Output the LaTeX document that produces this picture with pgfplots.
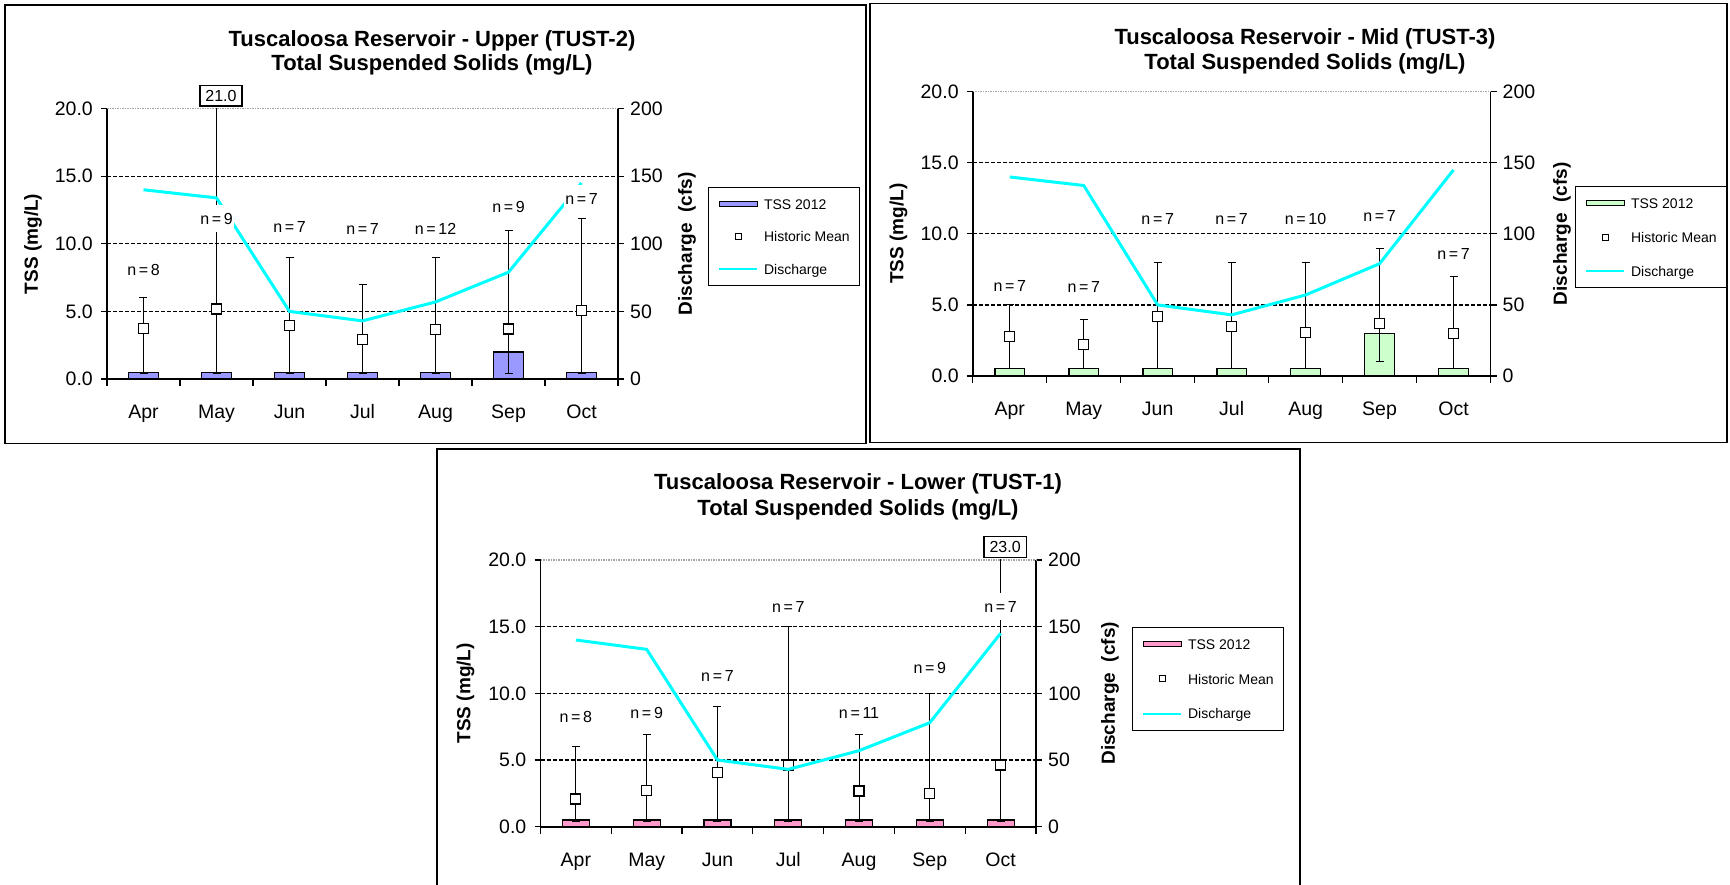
\documentclass[border=0pt]{standalone}
\usepackage{fontspec}
\setmainfont{Liberation Sans}
\usepackage{pgfplots}
\usepackage{pgfplotstable}
\pgfplotsset{compat=1.18}

\definecolor{tssA}{HTML}{9999FF}
\definecolor{tssB}{HTML}{CCFFCC}
\definecolor{tssC}{HTML}{FF99CC}
\definecolor{dis}{HTML}{00FFFF}

\newcommand\ftitle{\fontsize{22pt}{26pt}\selectfont\bfseries}
\newcommand\ftick{\fontsize{19.5pt}{23pt}\selectfont}
\newcommand\flab{\fontsize{19pt}{23pt}\selectfont\bfseries}
\newcommand\fleg{\fontsize{14pt}{17pt}\selectfont}
\newcommand\fn{\fontsize{16pt}{19pt}\selectfont}
\newcommand\fvalbox{\fontsize{16pt}{19pt}\selectfont}

% Upper TUST-2
\pgfplotstableread{
x mean lo hi tss dis n ny
0 3.74 0.4 6.0 0.5 140 8 8.07
1 5.18 0.4 21.0 0.5 134 9 11.87
2 3.95 0.4 9.0 0.5 50 7 11.27
3 2.94 0.4 7.0 0.5 43 7 11.13
4 3.65 0.4 9.0 0.5 57 12 11.13
5 3.70 0.4 11.0 2.0 79 9 12.75
6 5.05 0.4 11.9 0.5 145 7 13.32
}\dataA
% Mid TUST-3
\pgfplotstableread{
x mean lo hi tss dis n ny
0 2.77 0.5 5.0 0.5 140 7 6.35
1 2.23 0.5 4.0 0.5 134 7 6.28
2 4.17 0.5 8.0 0.5 50 7 11.02
3 3.47 0.5 8.0 0.5 43 7 11.02
4 3.07 0.5 8.0 0.5 57 10 11.02
5 3.70 1.0 9.0 3.0 79 7 11.25
6 3.00 0.5 7.0 0.5 145 7 8.58
}\dataB
% Lower TUST-1
\pgfplotstableread{
x mean lo hi tss dis n ny
0 2.08 0.4 6.0 0.5 140 8 8.25
1 2.73 0.4 6.9 0.5 133 9 8.55
2 4.05 0.4 9.0 0.5 50 7 11.3
3 4.63 0.4 15.0 0.5 43 7 16.45
4 2.68 0.4 6.9 0.5 57 11 8.55
5 2.50 0.4 10.0 0.5 78 9 11.88
6 4.63 0.4 23.0 0.5 145 7 16.5
}\dataC

\pgfplotsset{
  tssaxis/.style={
    scale only axis, clip mode=individual,
    xmin=-0.5, xmax=6.5, ymin=0, ymax=20,
    axis y line*=left, axis x line*=bottom,
    axis line style={line width=1.8pt, black},
    xtick={0,...,6}, xticklabels={Apr,May,Jun,Jul,Aug,Sep,Oct},
    minor xtick={-0.5,0.5,...,6.5},
    major x tick style={draw=none},
    minor x tick style={line width=1.2pt, black},
    tick align=outside, major tick length=6pt, minor tick length=7pt,
    ytick={0,5,...,20},
    major y tick style={line width=1.2pt, black},
    yticklabel style={/pgf/number format/fixed, /pgf/number format/fixed zerofill, /pgf/number format/precision=1, inner sep=0pt, anchor=east, xshift=-8pt},
    /pgf/number format/assume math mode=true,
    tick label style={font=\ftick},
    xticklabel style={anchor=base, inner sep=0pt, yshift=-34pt},
    extra y ticks={5,10,15}, extra y tick labels={},
    extra y tick style={grid=major, major tick length=0pt},
    major grid style={black, line width=1.2pt, dash pattern=on 4pt off 2pt},
    legend cell align=left,
  },
  disaxis/.style={
    scale only axis,
    xmin=-0.5, xmax=6.5, ymin=0, ymax=200,
    axis y line*=right, axis x line=none,
    axis line style={line width=1.8pt, black},
    ytick={0,50,...,200},
    tick align=outside, major tick length=6pt,
    major y tick style={line width=1.2pt, black},
    /pgf/number format/assume math mode=true,
    tick label style={font=\ftick},
    yticklabel style={inner sep=0pt, anchor=west, xshift=6pt},
  },
  nlab/.style={forget plot, draw=none, mark=none, point meta=explicit symbolic,
    nodes near coords={n\,=\,\pgfplotspointmeta},
    every node near coord/.append style={fill=white, inner xsep=1.5pt, inner ysep=2pt,
      text height=17pt, text depth=6pt, font=\fn, anchor=center}},
  meanplot/.style={only marks, mark=square*, mark size=5pt,
    mark options={fill=white, draw=black, line width=1.2pt},
    legend image code/.code={\path[draw=none,fill=none] (0pt,0pt) -- (38pt,0pt);
      \draw[black, fill=white, line width=1.2pt] (16pt,-3pt) rectangle (22pt,3pt);},
    error bars/.cd, y dir=both, y explicit,
    error bar style={line width=1pt, black},
    error mark options={rotate=90, mark size=4pt, line width=1pt, black}},
  displot/.style={dis, line width=3pt, mark=none,
    legend image code/.code={\draw[dis, line width=1.5pt] (0pt,0pt) -- (38pt,0pt);}},
}

\newcommand\panel[9]{% #1 x, #2 y, #3 width, #4 height, #5 data, #6 colour, #7 barwidth, #8 legend at, #9 row sep
  \begin{axis}[disaxis, at={(#1pt,#2pt)}, anchor=south west, width=#3pt, height=#4pt]
  \end{axis}
  \begin{axis}[tssaxis, at={(#1pt,#2pt)}, anchor=south west, width=#3pt, height=#4pt,
    legend style={at={(#8)}, anchor=north west, draw=black, line width=1.2pt, fill=white,
      font=\fleg, inner xsep=10pt, inner ysep=10pt, row sep=#9pt, column sep=6pt,
      nodes={inner sep=0pt}}]
    \addplot[ybar, bar width=#7pt, fill=#6, draw=black, line width=1.2pt,
      legend image code/.code={\draw[fill=#6, draw=black, line width=1.2pt] (0pt,-2.5pt) rectangle (38pt,2.5pt);}]
      table[x=x, y=tss] {#5};
    \addlegendentry{\strut TSS 2012}
    \addplot[meanplot] table[x=x, y=mean,
      y error plus expr=\thisrow{hi}-\thisrow{mean},
      y error minus expr=\thisrow{mean}-\thisrow{lo}] {#5};
    \addlegendentry{\strut Historic Mean}
    \addplot[displot] table[x=x, y expr=\thisrow{dis}/10] {#5};
    \addlegendentry{\strut Discharge}
    \addplot[nlab] table[x=x, y=ny, meta=n] {#5};
    \draw[gray!70, line width=1.5pt, dash pattern=on 1.5pt off 1pt] (rel axis cs:0,1) -- (rel axis cs:1,1);
}

\begin{document}
\begin{tikzpicture}[x=1pt,y=1pt]
\path[use as bounding box] (0,0) rectangle (1730,885);

% frames
\draw[line width=1.5pt] (5,880) rectangle (866,441.7);
\draw[line width=1.5pt] (870,881.7) rectangle (1727,442.7);
\draw[line width=1.5pt] (437,-5) -- (437,436) -- (1300,436) -- (1300,-5);

% Panel 1
\panel{107}{506}{511}{270.3}{\dataA}{tssA}{30}{axis description cs:1.1761,0.7103}{19}
  \node[draw=black, line width=1.2pt, fill=white, font=\fvalbox, inner xsep=5.5pt, inner ysep=4.75pt, anchor=south, xshift=4.5pt, yshift=2pt] at (axis cs:1,20) {21.0};
\end{axis}
\node[font=\ftitle, anchor=base] at (432,838) {Tuscaloosa Reservoir - Upper (TUST-2)};
\node[font=\ftitle, anchor=base] at (432,814) {Total Suspended Solids (mg/L)};
\node[font=\flab, rotate=90] at (33,641.1) {TSS (mg/L)};
\node[font=\flab, rotate=90] at (687,641.1) {Discharge~ (cfs)};

% Panel 2
\panel{972.8}{509}{517.7}{284.3}{\dataB}{tssB}{29.5}{axis description cs:1.1632,0.6683}{20.5}
\end{axis}
\node[font=\ftitle, anchor=base] at (1305,840) {Tuscaloosa Reservoir - Mid (TUST-3)};
\node[font=\ftitle, anchor=base] at (1305,815) {Total Suspended Solids (mg/L)};
\node[font=\flab, rotate=90] at (898.5,651.2) {TSS (mg/L)};
\node[font=\flab, rotate=90] at (1562,651.2) {Discharge~ (cfs)};

% Panel 3
\panel{540.5}{58.3}{495.5}{266.7}{\dataC}{tssC}{27}{axis description cs:1.1937,0.75}{21.5}
  \node[draw=black, line width=1.2pt, fill=white, font=\fvalbox, inner xsep=5.5pt, inner ysep=4.75pt, anchor=south, xshift=4.5pt, yshift=2pt] at (axis cs:6,20) {23.0};
\end{axis}
\node[font=\ftitle, anchor=base] at (858,395) {Tuscaloosa Reservoir - Lower (TUST-1)};
\node[font=\ftitle, anchor=base] at (858,369) {Total Suspended Solids (mg/L)};
\node[font=\flab, rotate=90] at (465.5,191.7) {TSS (mg/L)};
\node[font=\flab, rotate=90] at (1110,191.7) {Discharge~ (cfs)};
\end{tikzpicture}
\end{document}
